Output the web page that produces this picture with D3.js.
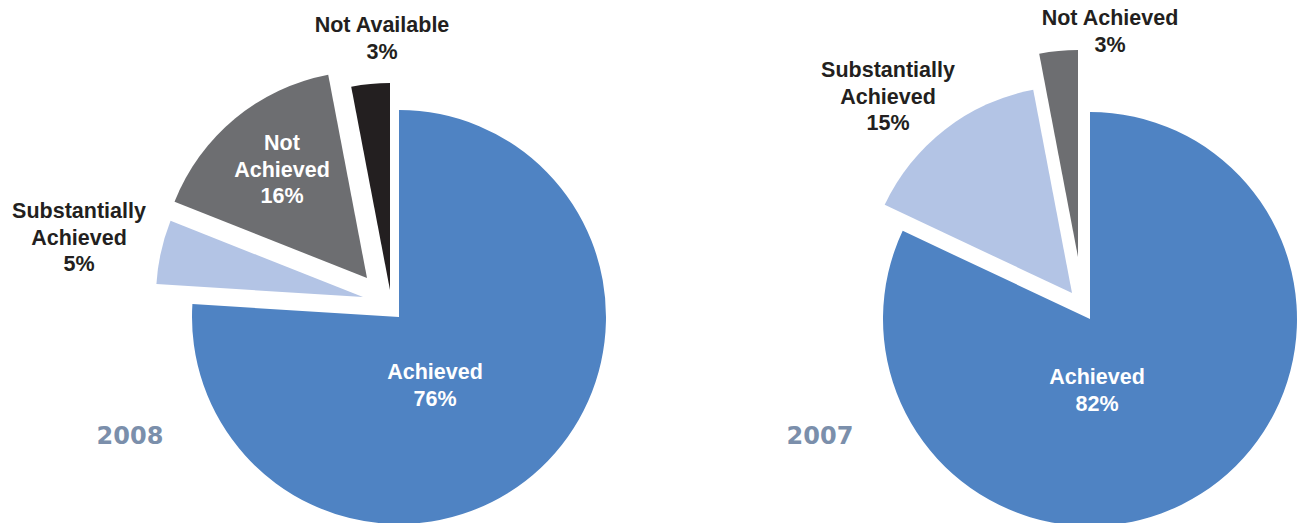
<!DOCTYPE html>
<html>
<head>
<meta charset="utf-8">
<script src="https://cdn.jsdelivr.net/npm/d3@7"></script>
<style>
  html, body { margin: 0; padding: 0; background: #fff; }
  svg { display: block; }
</style>
</head>
<body>
<div id="chart"></div>
<script>
// data
var categories2008 = ["Achieved", "Substantially Achieved", "Not Achieved", "Not Available"];
var values2008 = [76, 5, 16, 3];
var categories2007 = ["Achieved", "Substantially Achieved", "Not Achieved"];
var values2007 = [82, 15, 3];
var years = ["2008", "2007"];

var width = 1299, height = 523, radius = 207;

var colors = {
  "Achieved": "#4f83c3",
  "Substantially Achieved": "#b3c4e5",
  "Not Achieved": "#6d6e71",
  "Not Available": "#231f20"
};

// layout per pie: center, explode offsets, label placement (first line, relative to center)
var layouts = [
  {
    cx: 399, cy: 317,
    explode: [[0, 0], [-36, -20], [-32, -39], [-9, -27]],
    labels: [
      { dx: 36, dy: 55, lines: ["Achieved"], fill: "#fff" },
      { dx: -320, dy: -106, lines: ["Substantially", "Achieved"], fill: "#231f20" },
      { dx: -117, dy: -174, lines: ["Not", "Achieved"], fill: "#fff" },
      { dx: -17, dy: -292, lines: ["Not Available"], fill: "#231f20" }
    ],
    year: { dx: -269, dy: 119 }
  },
  {
    cx: 1090, cy: 319,
    explode: [[0, 0], [-18, -26], [-12, -62]],
    labels: [
      { dx: 7, dy: 58, lines: ["Achieved"], fill: "#fff" },
      { dx: -202, dy: -249, lines: ["Substantially", "Achieved"], fill: "#231f20" },
      { dx: 20, dy: -301, lines: ["Not Achieved"], fill: "#231f20" }
    ],
    year: { dx: -270, dy: 117 }
  }
];

var svg = d3.select("#chart").append("svg")
  .attr("width", width).attr("height", height);

var pie = d3.pie().sort(null).value(function (d) { return d.value; });
var arc = d3.arc().innerRadius(0).outerRadius(radius);
var lineH = 26.5;

function drawPie(cats, vals, year, lay) {
  var data = cats.map(function (c, i) { return { name: c, value: vals[i] }; });
  var g = svg.append("g").attr("transform", "translate(" + lay.cx + "," + lay.cy + ")");

  g.selectAll("path.slice")
    .data(pie(data))
    .enter().append("path")
    .attr("class", "slice")
    .attr("transform", function (d, i) { return "translate(" + lay.explode[i][0] + "," + lay.explode[i][1] + ")"; })
    .attr("fill", function (d) { return colors[d.data.name]; })
    .attr("d", arc);

  data.forEach(function (d, i) {
    var lb = lay.labels[i];
    var t = g.append("text")
      .attr("text-anchor", "middle")
      .attr("dominant-baseline", "central")
      .attr("font-family", "'Liberation Sans', Arial, sans-serif")
      .attr("font-weight", "bold")
      .attr("font-size", "21.5px")
      .attr("fill", lb.fill);
    var lines = lb.lines.concat([d.value + "%"]);
    lines.forEach(function (s, k) {
      t.append("tspan").attr("x", lb.dx).attr("y", lb.dy + k * lineH).text(s);
    });
  });

  g.append("text")
    .attr("x", lay.year.dx).attr("y", lay.year.dy)
    .attr("text-anchor", "middle")
    .attr("dominant-baseline", "central")
    .attr("font-family", "'DejaVu Sans', sans-serif")
    .attr("font-weight", "bold")
    .attr("font-size", "24px")
    .attr("fill", "#7b8fab")
    .text(year);
}

drawPie(categories2008, values2008, years[0], layouts[0]);
drawPie(categories2007, values2007, years[1], layouts[1]);
</script>
</body>
</html>
